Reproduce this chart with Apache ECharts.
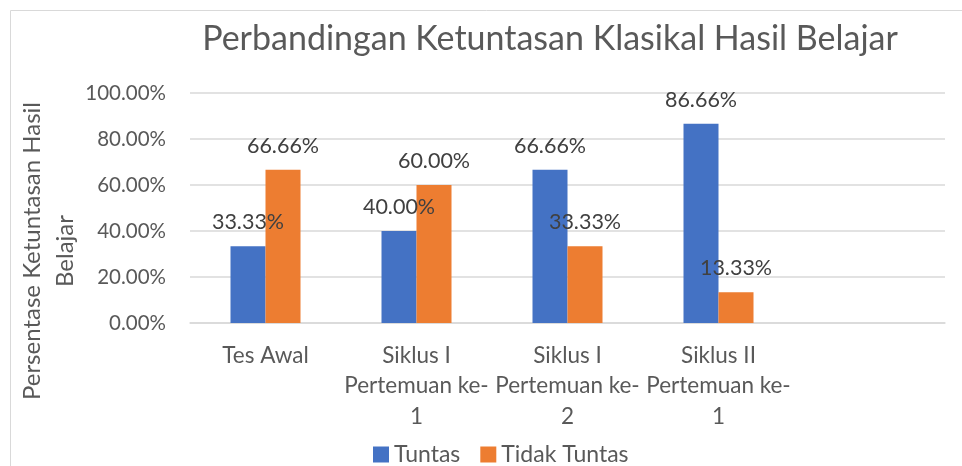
<!DOCTYPE html>
<html><head><meta charset="utf-8">
<script src="https://cdn.jsdelivr.net/npm/echarts@6/dist/echarts.min.js"></script>
<style>html,body{margin:0;padding:0;background:#fff}#c{width:962px;height:466px}</style>
</head><body><div id="c"></div>
<script>
const categories = ['Tes Awal', 'Siklus I\nPertemuan ke-\n1', 'Siklus I\nPertemuan ke-\n2', 'Siklus II\nPertemuan ke-\n1', ''];
const tuntas = [33.33, 40.00, 66.66, 86.66];
const tidakTuntas = [66.66, 60.00, 33.33, 13.33];
const seriesNames = ['Tuntas', 'Tidak Tuntas'];
const titleText = 'Perbandingan Ketuntasan Klasikal Hasil Belajar';
const yAxisTitle = 'Persentase Ketuntasan Hasil\nBelajar';

const FONT = 'Lato';
const TXT = '#595959';
const chart = echarts.init(document.getElementById('c'), null, {renderer: 'canvas'});
const labelCfg = {
  show: true, position: 'top', distance: 13, color: '#404040',
  fontFamily: FONT, fontSize: 21.5,
  formatter: p => p.value.toFixed(2) + '%'
};
chart.setOption({
  animation: false,
  textStyle: {fontFamily: FONT},
  graphic: [{
    type: 'rect', shape: {x: 10.5, y: 10.5, width: 1000, height: 1000},
    style: {fill: 'none', stroke: '#d9d9d9', lineWidth: 1}, silent: true, z: -1
  }, {
    type: 'text', x: 49, y: 251, rotation: Math.PI / 2, silent: true,
    style: {text: yAxisTitle, fill: TXT, font: '24px Lato', lineHeight: 33,
            textAlign: 'center', textVerticalAlign: 'middle'}
  }],
  title: {
    text: titleText, left: 545, top: 17, textAlign: 'center',
    textStyle: {fontFamily: FONT, fontSize: 34, fontWeight: 'normal', color: TXT}
  },
  legend: {
    data: seriesNames, bottom: -5, left: 368, itemWidth: 16, itemHeight: 16,
    itemGap: 20, icon: 'rect',
    textStyle: {fontFamily: FONT, fontSize: 23, color: TXT}
  },
  grid: {left: 190, right: 17, top: 93, bottom: 143, containLabel: false},
  xAxis: {
    type: 'category', data: categories,
    axisLine: {lineStyle: {color: '#d9d9d9', width: 1.5}},
    axisTick: {show: false},
    axisLabel: {color: TXT, fontFamily: FONT, fontSize: 22.5, lineHeight: 30.5, margin: 17, interval: 0}
  },
  yAxis: {
    type: 'value', min: 0, max: 100, interval: 20,
    axisLine: {show: false}, axisTick: {show: false},
    splitLine: {lineStyle: {color: '#d9d9d9', width: 1.5}},
    axisLabel: {color: TXT, fontFamily: FONT, fontSize: 20.5, margin: 24, formatter: v => v.toFixed(2) + '%'}
  },
  series: [
    {name: seriesNames[0], type: 'bar', data: tuntas, barWidth: 35, barGap: '0%',
     itemStyle: {color: '#4472C4'}, label: labelCfg},
    {name: seriesNames[1], type: 'bar', data: tidakTuntas, barWidth: 35, barGap: '0%',
     itemStyle: {color: '#ED7D31'}, label: labelCfg}
  ]
});
</script></body></html>
